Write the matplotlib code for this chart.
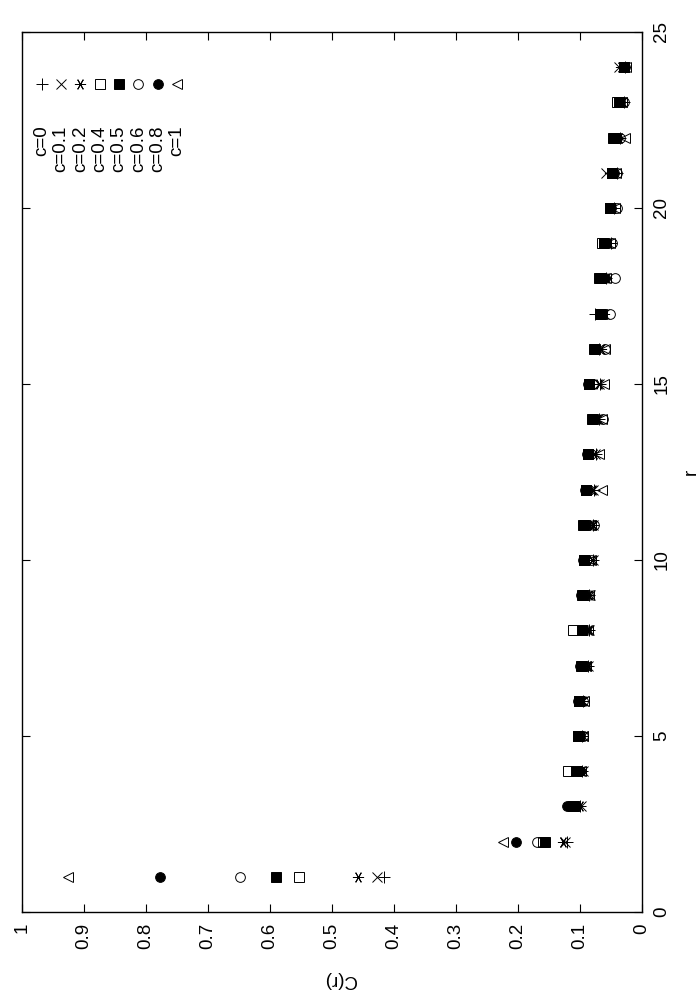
import matplotlib
matplotlib.use('Agg')
import matplotlib.pyplot as plt

plt.rcParams['font.family'] = ['Liberation Sans', 'DejaVu Sans']

r = list(range(1, 25))

c_labels = ['c=0', 'c=0.1', 'c=0.2', 'c=0.4', 'c=0.5', 'c=0.6', 'c=0.8', 'c=1']
c_ticks = [0, 0.1, 0.2, 0.3, 0.4, 0.5, 0.6, 0.7, 0.8, 0.9, 1]
c_ticklabels = ['0', '0.1', '0.2', '0.3', '0.4', '0.5', '0.6', '0.7', '0.8', '0.9', '1']
r_ticks = [0, 5, 10, 15, 20, 25]

C_c0 = [0.417, 0.122, 0.100, 0.097, 0.097, 0.096, 0.088, 0.086, 0.085, 0.080, 0.079, 0.078,
        0.075, 0.070, 0.068, 0.070, 0.076, 0.058, 0.050, 0.045, 0.040, 0.035, 0.030, 0.028]
C_c01 = [0.428, 0.125, 0.098, 0.096, 0.096, 0.095, 0.087, 0.085, 0.084, 0.080, 0.080, 0.079,
         0.076, 0.071, 0.069, 0.068, 0.062, 0.060, 0.056, 0.050, 0.058, 0.040, 0.032, 0.038]
C_c02 = [0.459, 0.127, 0.100, 0.097, 0.097, 0.096, 0.087, 0.086, 0.085, 0.081, 0.080, 0.080,
         0.077, 0.072, 0.069, 0.066, 0.062, 0.059, 0.055, 0.048, 0.052, 0.038, 0.031, 0.034]
C_c04 = [0.553, 0.160, 0.111, 0.119, 0.104, 0.102, 0.097, 0.112, 0.096, 0.094, 0.092, 0.090,
         0.087, 0.080, 0.085, 0.076, 0.066, 0.066, 0.065, 0.052, 0.048, 0.045, 0.041, 0.030]
C_c05 = [0.591, 0.156, 0.110, 0.106, 0.104, 0.102, 0.098, 0.097, 0.097, 0.094, 0.095, 0.090,
         0.087, 0.081, 0.085, 0.077, 0.068, 0.069, 0.062, 0.052, 0.049, 0.047, 0.038, 0.030]
C_c06 = [0.649, 0.169, 0.118, 0.100, 0.095, 0.095, 0.093, 0.090, 0.088, 0.082, 0.078, 0.086,
         0.082, 0.063, 0.080, 0.060, 0.052, 0.044, 0.048, 0.040, 0.040, 0.036, 0.030, 0.028]
C_c08 = [0.777, 0.203, 0.121, 0.101, 0.100, 0.103, 0.100, 0.095, 0.098, 0.096, 0.090, 0.092,
         0.089, 0.078, 0.087, 0.075, 0.066, 0.060, 0.058, 0.050, 0.045, 0.040, 0.035, 0.030]
C_c1 = [0.925, 0.225, 0.108, 0.098, 0.096, 0.094, 0.090, 0.088, 0.086, 0.083, 0.082, 0.065,
        0.069, 0.064, 0.062, 0.060, 0.064, 0.058, 0.052, 0.044, 0.043, 0.027, 0.033, 0.026]

series = [C_c0, C_c01, C_c02, C_c04, C_c05, C_c06, C_c08, C_c1]

# gnuplot style point types (page is rotated, so the triangle points left)
styles = [
    dict(marker='+', ms=8, mfc='none'),
    dict(marker='x', ms=7, mfc='none'),
    dict(marker=(6, 2, 90), ms=8, mfc='none'),
    dict(marker='s', ms=6.5, mfc='none'),
    dict(marker='s', ms=6.5, mfc='black'),
    dict(marker='o', ms=7, mfc='none'),
    dict(marker='o', ms=7, mfc='black'),
    dict(marker='<', ms=7, mfc='none'),
]

FS = 13.5

fig = plt.figure(figsize=(7, 10), dpi=100)
ax = fig.add_axes([0.0314, 0.088, 0.886, 0.88])

for vals, st in zip(series, styles):
    ax.plot(vals, r, ls='none', color='black', mec='black', mew=0.7, **st)

ax.set_xlim(1, 0)
ax.set_ylim(0, 25)
ax.set_xticks(c_ticks)
ax.set_xticklabels(c_ticklabels, rotation=90, fontsize=FS)
ax.set_yticks(r_ticks)
ax.yaxis.tick_right()
ax.tick_params(axis='both', direction='in', length=6, width=0.8, top=True, bottom=True,
               left=True, right=True, labelleft=False, labelright=True, pad=8)
for lab in ax.get_yticklabels():
    lab.set_rotation(90)
    lab.set_fontsize(FS)
    lab.set_va('center')
for sp in ax.spines.values():
    sp.set_linewidth(1.0)

# axis titles (the whole gnuplot page is turned by 90 degrees)
fig.text(0.486, 0.012, 'C(r)', rotation=180, ha='center', va='bottom', fontsize=FS)
fig.text(0.988, 0.528, 'r', rotation=90, ha='center', va='center', fontsize=FS)

# key, drawn like gnuplot: sample above, text below reading upwards
for i, (lab, st) in enumerate(zip(c_labels, styles)):
    xk = 0.032 + 0.0311 * i
    ax.plot([xk], [0.941], ls='none', color='black', mec='black', mew=0.7,
            transform=ax.transAxes, clip_on=False, **st)
    ax.text(xk, 0.894, lab, rotation=90, ha='center', va='top', fontsize=FS,
            transform=ax.transAxes)

fig.savefig('out.png', dpi=100)
